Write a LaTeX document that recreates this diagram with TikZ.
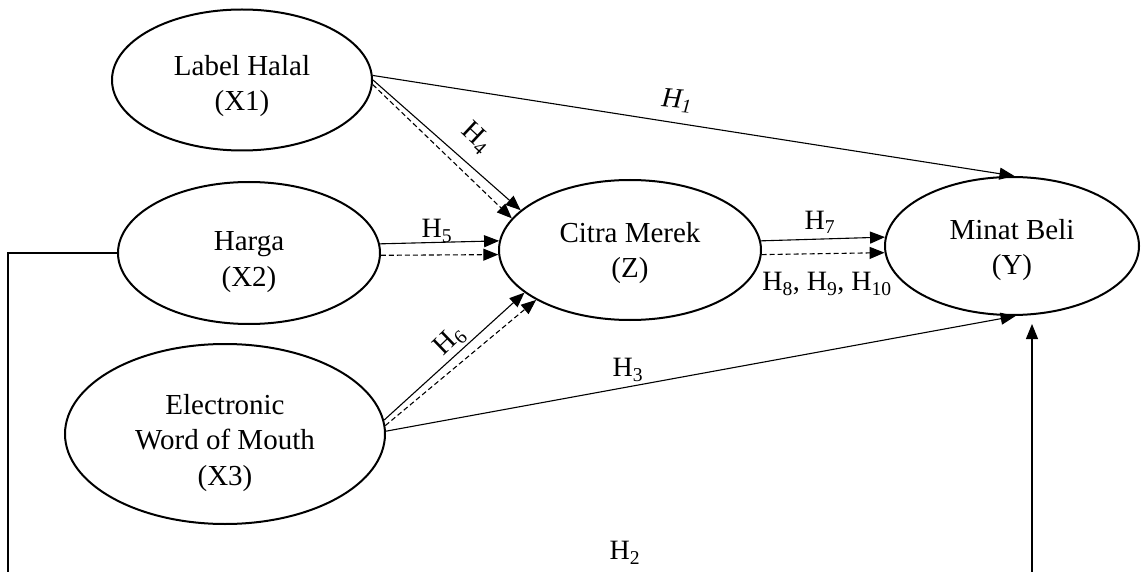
\documentclass[tikz,border=0pt]{standalone}
\usepackage{fontspec}
\setmainfont{Liberation Serif}
\usetikzlibrary{arrows.meta,shapes.geometric}
% hypothesis label with numeric subscript
\newcommand\hyp[1]{H\textsubscript{#1}}
\begin{document}
\begin{tikzpicture}[x=1pt,y=-1pt,
  construct/.style={draw,ellipse,line width=2pt,inner sep=0pt},
  caption/.style={align=center,inner sep=0pt,font=\fontsize{29}{35.5}\selectfont},
  link/.style={line width=1.1pt,-{Triangle[length=15pt,width=12pt]}},
  mlink/.style={link,dash pattern=on 5pt off 3pt},
  hlabel/.style={inner sep=0pt,font=\fontsize{28}{32}\selectfont}]
\useasboundingbox (0,0) rectangle (1141,572);
\clip (0,0) rectangle (1141,572);

% constructs
\node[construct,minimum width=260pt,minimum height=141pt] (lh) at (242,80) {};
\node[construct,minimum width=262pt,minimum height=142pt] (hg) at (249,253) {};
\node[construct,minimum width=320pt,minimum height=180pt] (ew) at (225,434) {};
\node[construct,minimum width=262pt,minimum height=140pt] (cm) at (630,250) {};
\node[construct,minimum width=254pt,minimum height=138pt] (mb) at (1012,246) {};

% construct names
\node[caption,yshift=-6pt] (lhname) at (lh) {Label Halal\\(X1)};
\node[caption,yshift=-9pt] (hgname) at (hg) {Harga\\(X2)};
\node[caption,yshift=-9pt] (ewname) at (ew) {Electronic\\Word of Mouth\\(X3)};
\node[caption,yshift=-3pt] (cmname) at (cm) {Citra Merek\\(Z)};
\node[caption,yshift=-4pt] (mbname) at (mb) {Minat Beli\\(Y)};

% direct effects
\draw[link] (lh.2) -- (mb.88);
\draw[link] (ew.1.5) -- (mb.-87);
\coordinate (corner) at (8,600);
\draw[link] (hg.west) -| (corner) -| ([xshift=20pt,yshift=-8pt]mb.south);

% effects on brand image
\draw[link] (lh.-0.5) -- (cm.160);
\draw[mlink] (lh.-2.3) -- (cm.165);
\draw[link] (hg.4.8) -- (cm.176);
\draw[mlink] (hg.-1.7) -- (cm.182.6);
\draw[link] (ew.5.5) -- (cm.202);
\draw[mlink] (ew.3.5) -- (cm.208.6);

% brand image to purchase intention
\draw[link] (cm.4.3) -- (mb.176.5);
\draw[mlink] (cm.-2.6) -- (mb.183);

% hypothesis labels
\node[hlabel,rotate=-5] (l1) at (677,101) {\textit{H\textsubscript{1}}};
\node[hlabel] (l2) at (625,553) {\hyp{2}};
\node[hlabel] (l3) at (628,370) {\hyp{3}};
\node[hlabel,rotate=-43] (l4) at (476,138) {\hyp{4}};
\node[hlabel] (l5) at (437,231) {\hyp{5}};
\node[hlabel,rotate=44] (l6) at (450,341) {\hyp{6}};
\node[hlabel] (l7) at (820,222) {\hyp{7}};
\node[hlabel] (l8) at (827,284) {\hyp{8}, \hyp{9}, \hyp{10}};
\end{tikzpicture}
\end{document}
